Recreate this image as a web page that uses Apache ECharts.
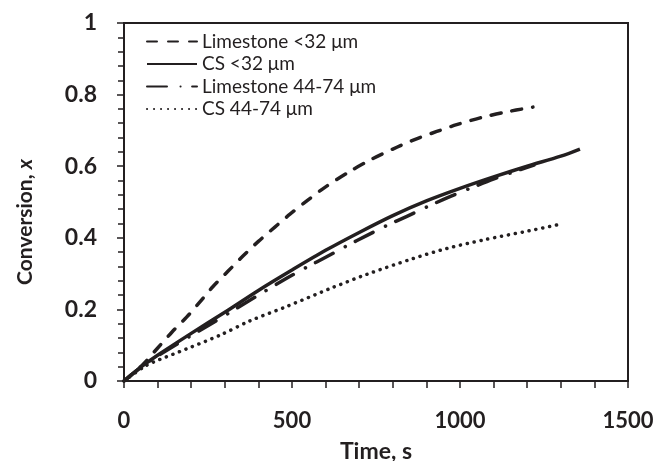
<!DOCTYPE html>
<html>
<head>
<meta charset="utf-8">
<script src="https://cdn.jsdelivr.net/npm/echarts@6/dist/echarts.min.js"></script>
<style>
html,body{margin:0;padding:0;background:#fff;}
#chart{width:657px;height:461px;}
</style>
</head>
<body>
<div id="chart"></div>
<script>
// ---- Data (time in s, conversion x) ----
const seriesNames = ['Limestone <32 μm', 'CS <32 μm', 'Limestone 44-74 μm', 'CS 44-74 μm'];

const limestone32 = [
  [0,0],[55,0.045],[101,0.093],[143,0.137],[187,0.179],[226,0.221],[265,0.264],
  [310,0.307],[354,0.349],[400,0.39],[449,0.43],[494,0.466],[548,0.506],[598,0.541],
  [673,0.586],[740,0.621],[812,0.653],[861,0.673],[931,0.697],[990,0.716],[1060,0.735],
  [1129,0.75],[1217,0.765]
];
const cs32 = [
  [0,0],[55,0.042],[100,0.072],[200,0.133],[300,0.192],[400,0.253],[500,0.31],
  [600,0.365],[700,0.415],[800,0.462],[900,0.503],[1000,0.538],[1100,0.57],
  [1200,0.6],[1300,0.628],[1357,0.648]
];
const limestone4474 = [
  [0,0],[60,0.045],[152,0.1],[256,0.158],[395,0.237],[484,0.287],[544,0.318],
  [603,0.347],[662,0.377],[722,0.406],[786,0.436],[842,0.46],[908,0.489],
  [970,0.515],[1035,0.54],[1099,0.564],[1169,0.587],[1220,0.603]
];
const cs4474 = [
  [0,0],[60,0.04],[88,0.053],[187,0.09],[286,0.128],[375,0.168],[484,0.208],
  [613,0.258],[723,0.298],[860,0.342],[960,0.37],[1070,0.394],[1208,0.42],[1289,0.436]
];

const xAxisRange = [0, 1500];
const yAxisRange = [0, 1];
const xTickStep = 500;
const yTickStep = 0.2;

const ink = '#231f20';
const fontFam = 'Lato, "Open Sans", sans-serif';

const chart = echarts.init(document.getElementById('chart'), null, {renderer: 'canvas'});

function mkSeries(name, data, lineType, cap) {
  return {
    name: name,
    type: 'line',
    data: data,
    symbol: 'none',
    smooth: 0.3,
    lineStyle: {color: ink, width: 3.5, type: lineType, cap: cap || 'butt', join: 'round'},
    itemStyle: {color: ink},
    emphasis: {disabled: true},
    silent: true
  };
}

const option = {
  animation: false,
  backgroundColor: '#fff',
  grid: {left: 124, right: 29, top: 23, bottom: 80, containLabel: false, outerBoundsMode: 'none',
    show: true, borderColor: ink, borderWidth: 2, backgroundColor: 'transparent'},
  legend: {
    orient: 'vertical',
    left: 141,
    top: 27,
    itemWidth: 50,
    itemHeight: 14,
    itemGap: 3.5,
    data: seriesNames,
    itemStyle: {color: 'transparent', borderColor: 'transparent', borderWidth: 0, opacity: 0},
    textStyle: {fontFamily: fontFam, fontSize: 19, color: ink},
    selectedMode: false
  },
  xAxis: {
    type: 'value',
    min: xAxisRange[0], max: xAxisRange[1], interval: xTickStep,
    name: 'Time, s',
    nameLocation: 'middle',
    nameGap: 59,
    nameTextStyle: {fontFamily: fontFam, fontWeight: 'bold', fontSize: 23, color: ink},
    axisLine: {show: true, onZero: false, lineStyle: {color: ink, width: 2}},
    axisTick: {show: true, inside: false, length: 7, lineStyle: {color: ink, width: 1.5}},
    minorTick: {show: true, splitNumber: 5, length: 7, lineStyle: {color: ink, width: 1.5}},
    splitLine: {show: false},
    axisLabel: {margin: 29, fontFamily: fontFam, fontWeight: 'bold', fontSize: 22, color: ink,
      formatter: v => String(v)}
  },
  yAxis: {
    type: 'value',
    min: yAxisRange[0], max: yAxisRange[1], interval: yTickStep,
    name: '{b|Conversion, }{i|x}',
    nameLocation: 'middle',
    nameGap: 88,
    nameRotate: 90,
    nameTextStyle: {
      fontFamily: fontFam, fontWeight: 'bold', fontSize: 21, color: ink, align: 'center',
      padding: [0, 40, 0, 0],
      rich: {
        b: {fontFamily: fontFam, fontWeight: 'bold', fontSize: 21, color: ink},
        i: {fontFamily: fontFam, fontWeight: 'bold', fontStyle: 'italic', fontSize: 21, color: ink}
      }
    },
    axisLine: {show: true, lineStyle: {color: ink, width: 2}},
    axisTick: {show: true, inside: false, length: 7, lineStyle: {color: ink, width: 1.5}},
    minorTick: {show: true, splitNumber: 5, length: 6, lineStyle: {color: ink, width: 1.5}},
    splitLine: {show: false},
    axisLabel: {margin: 27, fontFamily: fontFam, fontWeight: 'bold', fontSize: 23, color: ink,
      formatter: v => String(+v.toFixed(2))}
  },
  series: [
    mkSeries(seriesNames[0], limestone32, [10, 11], 'round'),
    mkSeries(seriesNames[1], cs32, 'solid'),
    mkSeries(seriesNames[2], limestone4474, [20, 13.5, 0.1, 11.5], 'round'),
    mkSeries(seriesNames[3], cs4474, [0.1, 6.9], 'round')
  ]
};
chart.setOption(option);
</script>
</body>
</html>
